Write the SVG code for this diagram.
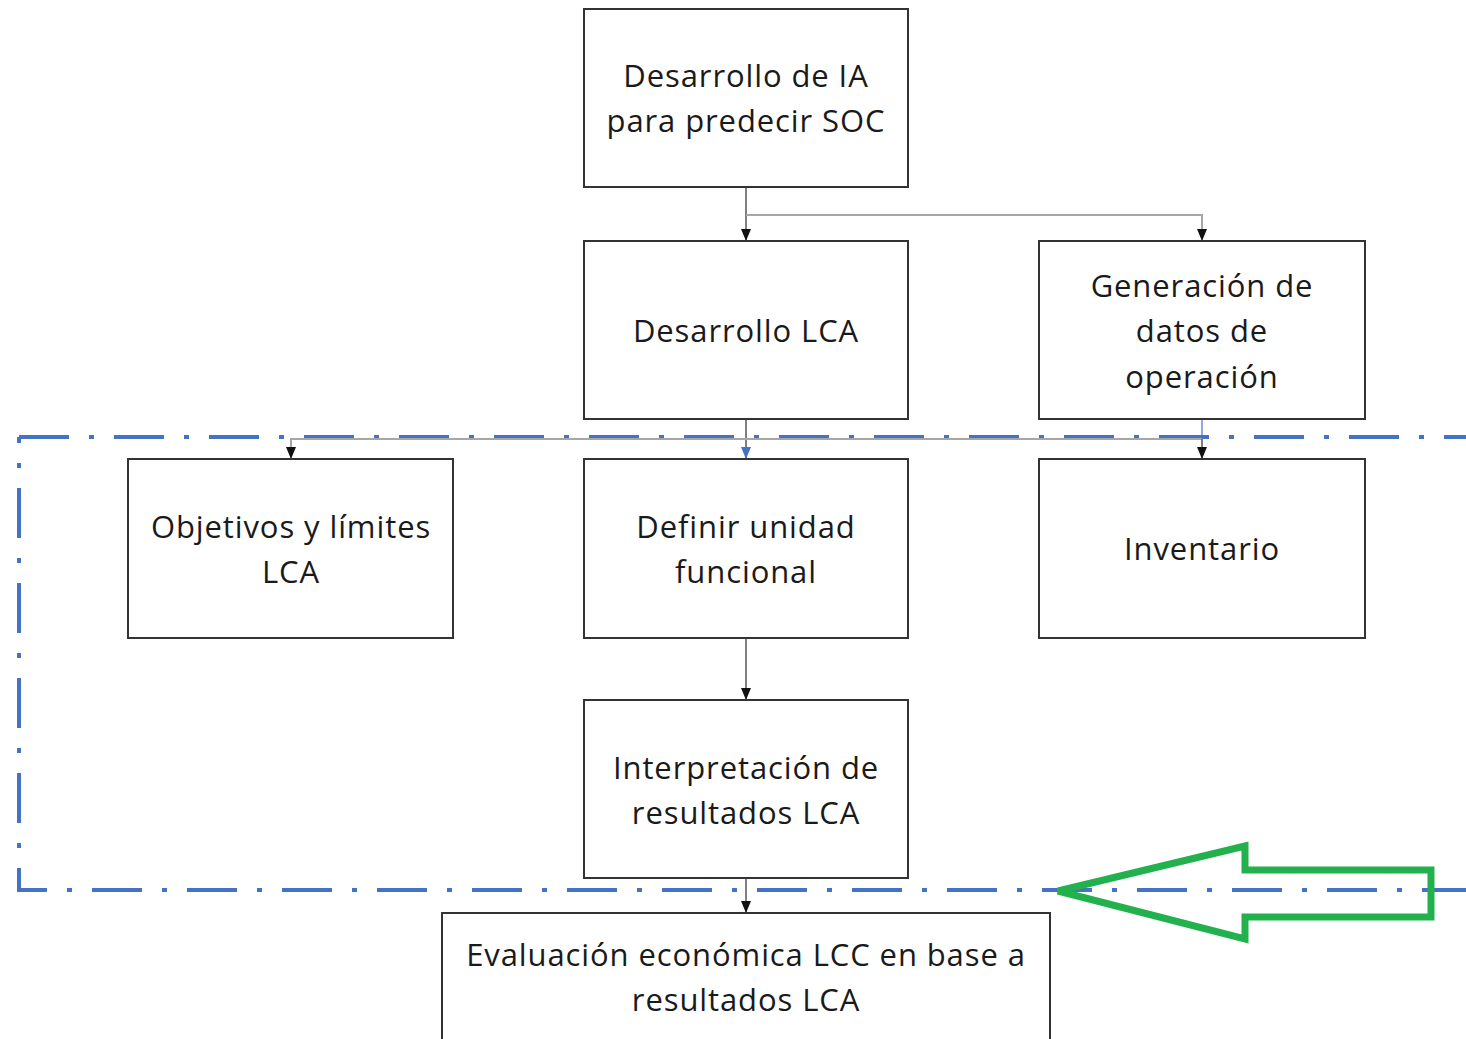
<svg xmlns="http://www.w3.org/2000/svg" width="1466" height="1039" viewBox="0 0 1466 1039">
<defs>
<style>
.box{fill:#fff;stroke:#333;stroke-width:2}
.t{font-family:"Open Sans","Noto Sans",sans-serif;font-size:31px;letter-spacing:0.9px;fill:#1a1a1a;text-anchor:middle}
.c{fill:none;stroke:#555;stroke-width:1.5}
.cg{fill:none;stroke:#a6a6a6;stroke-width:2}
.dd{fill:none;stroke:#4472c4;stroke-width:4;stroke-dasharray:50 20 5 20}
</style>
<marker id="a" viewBox="0 0 12 12" refX="12" refY="6" markerWidth="12" markerHeight="12" markerUnits="userSpaceOnUse" orient="auto"><path d="M0,1 L12,6 L0,11 Z" fill="#111"/></marker>
<marker id="ab" viewBox="0 0 12 12" refX="12" refY="6" markerWidth="12" markerHeight="12" markerUnits="userSpaceOnUse" orient="auto"><path d="M0,1 L12,6 L0,11 Z" fill="#4472c4"/></marker>
</defs>
<rect width="1466" height="1039" fill="#fff"/>

<g id="boundary">
<path class="dd" d="M19,437 L1466,437"/>
<path class="dd" stroke-dashoffset="44" d="M19,437 L19,890 L1466,890"/>
</g>

<g id="connectors">
<path class="c" d="M746,187 V241" marker-end="url(#a)"/>
<path class="cg" d="M746,215 H1202 V241" marker-end="url(#a)"/>
<path class="c" d="M746,419 V459" marker-end="url(#ab)"/>
<path d="M1202,419 V437" stroke="#4472c4" stroke-width="1.2" fill="none"/>
<path class="cg" d="M1202,439 H291 V459" marker-end="url(#a)"/>
<path class="c" d="M1202,439 V459" marker-end="url(#a)"/>
<path class="c" d="M746,638 V700" marker-end="url(#a)"/>
<path class="c" d="M746,878 V913" marker-end="url(#a)"/>
</g>

<g id="n1"><rect class="box" x="584" y="9" width="324" height="178"/>
<text class="t" x="746" y="87">Desarrollo de IA</text><text class="t" x="746" y="132">para predecir SOC</text></g>
<g id="n2"><rect class="box" x="584" y="241" width="324" height="178"/>
<text class="t" x="746" y="342">Desarrollo LCA</text></g>
<g id="n3"><rect class="box" x="1039" y="241" width="326" height="178"/>
<text class="t" x="1202" y="297">Generación de</text><text class="t" x="1202" y="342">datos de</text><text class="t" x="1202" y="388">operación</text></g>
<g id="n4"><rect class="box" x="128" y="459" width="325" height="179"/>
<text class="t" x="291" y="538">Objetivos y límites</text><text class="t" x="291" y="583">LCA</text></g>
<g id="n5"><rect class="box" x="584" y="459" width="324" height="179"/>
<text class="t" x="746" y="538">Definir unidad</text><text class="t" x="746" y="583">funcional</text></g>
<g id="n6"><rect class="box" x="1039" y="459" width="326" height="179"/>
<text class="t" x="1202" y="560">Inventario</text></g>
<g id="n7"><rect class="box" x="584" y="700" width="324" height="178"/>
<text class="t" x="746" y="779">Interpretación de</text><text class="t" x="746" y="824">resultados LCA</text></g>
<g id="n8"><rect class="box" x="442" y="913" width="608" height="140"/>
<text class="t" x="746" y="966">Evaluación económica LCC en base a</text><text class="t" x="746" y="1011">resultados LCA</text></g>

<g id="arrow">
<path d="M1058,891 L1245,846 L1245,870 L1431,870 L1431,917 L1245,917 L1245,939 Z" fill="none" stroke="#22b14c" stroke-width="7" stroke-linejoin="miter"/>
</g>
</svg>
